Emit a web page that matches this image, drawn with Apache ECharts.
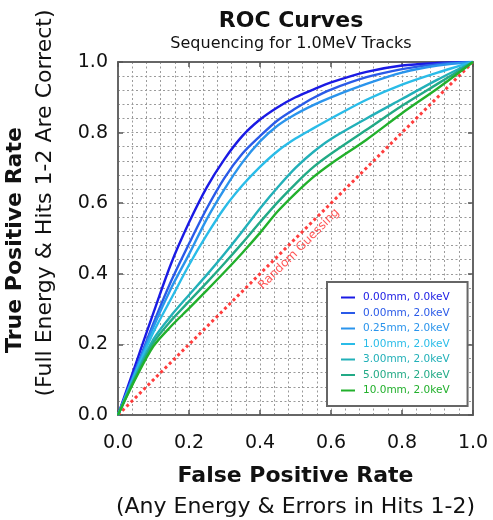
<!DOCTYPE html>
<html>
<head>
<meta charset="utf-8">
<script src="https://cdn.jsdelivr.net/npm/echarts@6/dist/echarts.min.js"></script>
<style>
  html, body { margin: 0; padding: 0; background: #fff; }
  #chart { width: 493px; height: 520px; }
</style>
</head>
<body>
<div id="chart"></div>
<script>
// --- data: true positive rate at each false positive rate ---
const seriesNames = [
  '0.00mm, 0.0keV', '0.00mm, 2.0keV', '0.25mm, 2.0keV', '1.00mm, 2.0keV',
  '3.00mm, 2.0keV', '5.00mm, 2.0keV', '10.0mm, 2.0keV'
];
const fprPoints    = [0, 0.05, 0.1, 0.15, 0.2, 0.25, 0.3, 0.35, 0.4, 0.45, 0.5, 0.55, 0.6, 0.7, 0.8, 0.9, 1];
const tpr000mm0keV = [0, 0.145, 0.29, 0.43, 0.545, 0.645, 0.725, 0.79, 0.837, 0.872, 0.9, 0.922, 0.942, 0.972, 0.99, 0.997, 1];
const tpr000mm2keV = [0, 0.13, 0.26, 0.38, 0.485, 0.585, 0.672, 0.74, 0.79, 0.835, 0.868, 0.898, 0.922, 0.957, 0.98, 0.994, 1];
const tpr025mm2keV = [0, 0.125, 0.25, 0.36, 0.455, 0.555, 0.64, 0.715, 0.775, 0.82, 0.852, 0.878, 0.9, 0.938, 0.97, 0.99, 1];
const tpr100mm2keV = [0, 0.12, 0.235, 0.33, 0.425, 0.51, 0.587, 0.65, 0.703, 0.748, 0.783, 0.812, 0.84, 0.893, 0.936, 0.97, 1];
const tpr300mm2keV = [0, 0.113, 0.215, 0.282, 0.34, 0.397, 0.457, 0.52, 0.585, 0.645, 0.7, 0.745, 0.782, 0.84, 0.895, 0.95, 1];
const tpr500mm2keV = [0, 0.108, 0.205, 0.268, 0.322, 0.375, 0.43, 0.487, 0.546, 0.603, 0.655, 0.702, 0.74, 0.808, 0.876, 0.938, 1];
const tpr10mm2keV  = [0, 0.104, 0.195, 0.252, 0.302, 0.353, 0.405, 0.459, 0.516, 0.577, 0.628, 0.674, 0.712, 0.78, 0.855, 0.925, 1];
const randomGuess = [[0, 0], [1, 1]];
const randomGuessLabelAt = [[0.51, 0.47]];
const tickLabels = ['0.0', '0.2', '0.4', '0.6', '0.8', '1.0'];

const curves = [tpr000mm0keV, tpr000mm2keV, tpr025mm2keV, tpr100mm2keV, tpr300mm2keV, tpr500mm2keV, tpr10mm2keV];

// --- colours / fonts ---
const LINE_COLORS = ['#1a1ae4', '#2a5ae8', '#2a94ec', '#2abce8', '#22b0b8', '#22aa86', '#22b02c'];
const FONT = 'DejaVu Sans';
const GRID_LINE = { type: [2, 2.5], color: '#9a9a9a', width: 1 };

const chart = echarts.init(document.getElementById('chart'), null, { renderer: 'canvas' });

// value axis 0..1, labels only on the main sides
function makeAxis(position, main) {
  return {
    type: 'value', position: position, min: 0, max: 1, interval: 0.2,
    axisLine: { show: true, onZero: false, lineStyle: { color: '#666', width: 2 } },
    axisTick: { show: true, inside: true, length: 5, lineStyle: { color: '#555', width: 1.5 } },
    axisLabel: {
      show: main, color: '#111', fontFamily: FONT, fontSize: 19, margin: position === 'bottom' ? 19 : 10,
      formatter: v => tickLabels[Math.round(v / 0.2)]
    },
    splitLine: { show: main, lineStyle: GRID_LINE },
    minorTick: { show: false, splitNumber: 5 },
    minorSplitLine: { show: main, lineStyle: GRID_LINE }
  };
}

const xBottom = makeAxis('bottom', true);
xBottom.name = '{a|False Positive Rate}\n{b|(Any Energy & Errors in Hits 1-2)}';
xBottom.nameLocation = 'middle';
xBottom.nameGap = 46;
xBottom.nameTextStyle = {
  color: '#111', fontFamily: FONT,
  rich: {
    a: { fontSize: 22, fontWeight: 'bold', lineHeight: 30, fontFamily: FONT, color: '#111' },
    b: { fontSize: 22, lineHeight: 32, fontFamily: FONT, color: '#111' }
  }
};

const option = {
  animation: false,
  backgroundColor: '#fff',
  title: [
    { text: 'ROC Curves', left: 286, top: 5, textAlign: 'center',
      textStyle: { fontFamily: FONT, fontSize: 22, fontWeight: 'bold', color: '#111' } },
    { text: 'Sequencing for 1.0MeV Tracks', left: 286, top: 31, textAlign: 'center',
      textStyle: { fontFamily: FONT, fontSize: 16, fontWeight: 'normal', color: '#111' } }
  ],
  grid: { left: 118, right: 20, top: 62, bottom: 105, outerBoundsMode: 'none', containLabel: false },
  xAxis: [xBottom, makeAxis('top', false)],
  yAxis: [makeAxis('left', true), makeAxis('right', false)],
  legend: {
    orient: 'vertical', left: 327, top: 282,
    backgroundColor: '#fff', borderColor: '#666', borderWidth: 2,
    padding: [10, 18, 10, 14], itemGap: 4.5, itemWidth: 14, itemHeight: 2, icon: 'rect',
    textStyle: { fontFamily: FONT, fontSize: 10.5, padding: [0, 0, 0, 3] },
    data: seriesNames.map((n, i) => ({ name: n, textStyle: { color: LINE_COLORS[i] } }))
  },
  graphic: [
    { type: 'text', x: 15, y: 240, rotation: Math.PI / 2,
      style: { text: 'True Positive Rate', font: 'bold 22px "DejaVu Sans"', fill: '#111', align: 'center', verticalAlign: 'middle' } },
    { type: 'text', x: 45, y: 203, rotation: Math.PI / 2,
      style: { text: '(Full Energy & Hits 1-2 Are Correct)', font: '22px "DejaVu Sans"', fill: '#111', align: 'center', verticalAlign: 'middle' } }
  ],
  series: [
    {
      name: 'Random Guessing', type: 'line', data: randomGuess, showSymbol: false, silent: true,
      lineStyle: { color: 'rgba(255,40,40,0.9)', width: 3, type: 'dotted' }, z: 1
    },
    {
      name: 'label', type: 'scatter', data: randomGuessLabelAt, symbolSize: 0, silent: true,
      label: { show: true, position: 'inside', rotate: 45, formatter: 'Random Guessing',
        color: '#ff2a2a', fontFamily: FONT, fontSize: 12 }
    }
  ].concat(curves.map((tpr, i) => ({
    name: seriesNames[i], type: 'line', showSymbol: false, smooth: 0.3,
    data: fprPoints.map((f, k) => [f, tpr[k]]),
    lineStyle: { color: LINE_COLORS[i], width: 2.4 }, itemStyle: { color: LINE_COLORS[i] }, z: 3
  })))
};

chart.setOption(option);
</script>
</body>
</html>
